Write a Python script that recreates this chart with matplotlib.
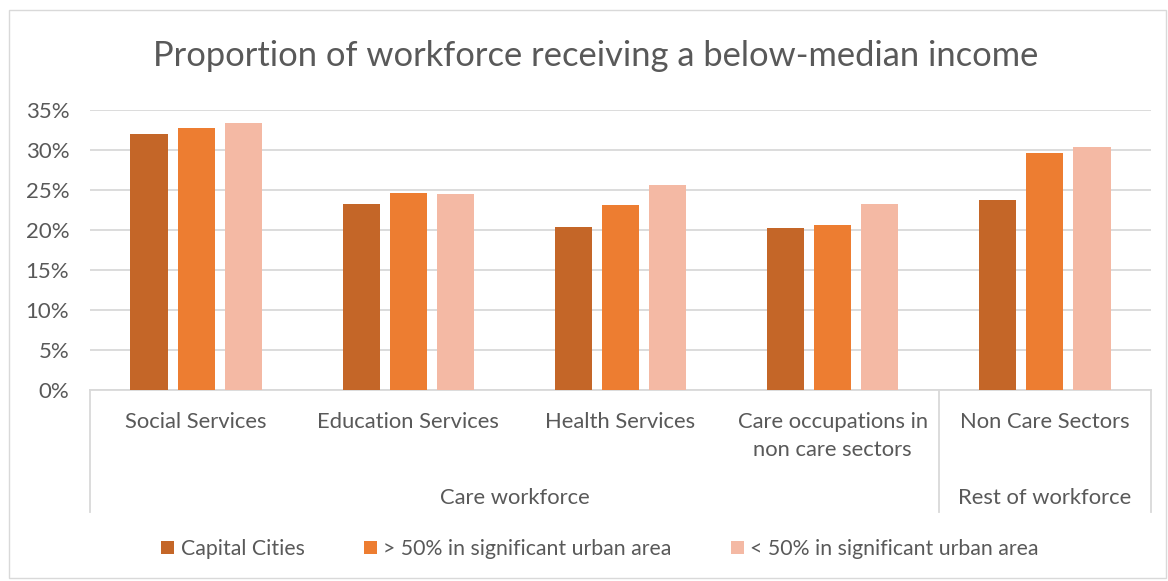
import numpy as np
import matplotlib
matplotlib.use('Agg')
import matplotlib.pyplot as plt
from matplotlib.patches import Rectangle
from matplotlib.transforms import blended_transform_factory

plt.rcParams['font.family'] = ['Lato', 'DejaVu Sans']

# Data
categories = ['Social Services', 'Education Services', 'Health Services',
              'Care occupations in\nnon care sectors', 'Non Care Sectors']
groups = ['Care workforce', 'Rest of workforce']
series_names = ['Capital Cities', '> 50% in significant urban area',
                '< 50% in significant urban area']
capital = [0.320, 0.233, 0.204, 0.202, 0.238]
over_50 = [0.327, 0.246, 0.231, 0.206, 0.296]
under_50 = [0.334, 0.245, 0.256, 0.232, 0.304]
colors = ['#C46628', '#ED7D31', '#F4B9A4']
text_col = '#595959'
grid_col = '#D9D9D9'

fig = plt.figure(figsize=(11.68, 5.81), dpi=100)
ax = fig.add_axes([90 / 1168, (581 - 390) / 581, 1061 / 1168, 280 / 581])

x = np.arange(len(categories))
width = 0.175
step = 0.222
for i, (vals, name) in enumerate(zip([capital, over_50, under_50], series_names)):
    ax.bar(x + (i - 1) * step, vals, width, color=colors[i], label=name, zorder=3)

ax.set_xlim(-0.5, len(categories) - 0.5)
ax.set_ylim(0, 0.35)
ax.set_yticks(np.arange(0, 0.351, 0.05))
ax.set_yticklabels([f'{int(round(v * 100))}%' for v in np.arange(0, 0.351, 0.05)])
ax.yaxis.grid(True, color=grid_col, linewidth=1.3, zorder=0)
ax.tick_params(axis='y', length=0, pad=15, labelsize=16, labelcolor=text_col)
ax.set_xticks([])
for s in ['top', 'right', 'left']:
    ax.spines[s].set_visible(False)
ax.spines['bottom'].set_color(grid_col)
ax.spines['bottom'].set_linewidth(1.3)

# multi-level category axis
trans = blended_transform_factory(ax.transData, ax.transAxes)
line_bottom = -0.436
for xv in [-0.5, 3.5, 4.5]:
    ax.plot([xv, xv], [0, line_bottom], transform=trans, color=grid_col,
            linewidth=1.3, clip_on=False)
for xi, cat in zip(x, categories):
    ax.text(xi, -0.08, cat, transform=trans, ha='center', va='top',
            fontsize=15.8, color=text_col, linespacing=1.5)
ax.text(1.5, -0.385, groups[0], transform=trans, ha='center', va='center',
        fontsize=15.8, color=text_col)
ax.text(4, -0.385, groups[1], transform=trans, ha='center', va='center',
        fontsize=15.8, color=text_col)

fig.suptitle('Proportion of workforce receiving a below-median income',
             x=0.51, y=(581 - 56) / 581, va='center', fontsize=24.8, color=text_col)

fig.legend(loc='center', bbox_to_anchor=(600 / 1168, (581 - 549) / 581), ncol=3,
           frameon=False, fontsize=15.3, labelcolor=text_col, handlelength=0.6,
           handleheight=0.6, handletextpad=0.3, columnspacing=2.8)

fig.patches.append(Rectangle((9 / 1168, 3 / 581), 1157 / 1168, 568 / 581,
                             transform=fig.transFigure, fill=False,
                             edgecolor=grid_col, linewidth=1))

fig.savefig('out.png', dpi=100)
